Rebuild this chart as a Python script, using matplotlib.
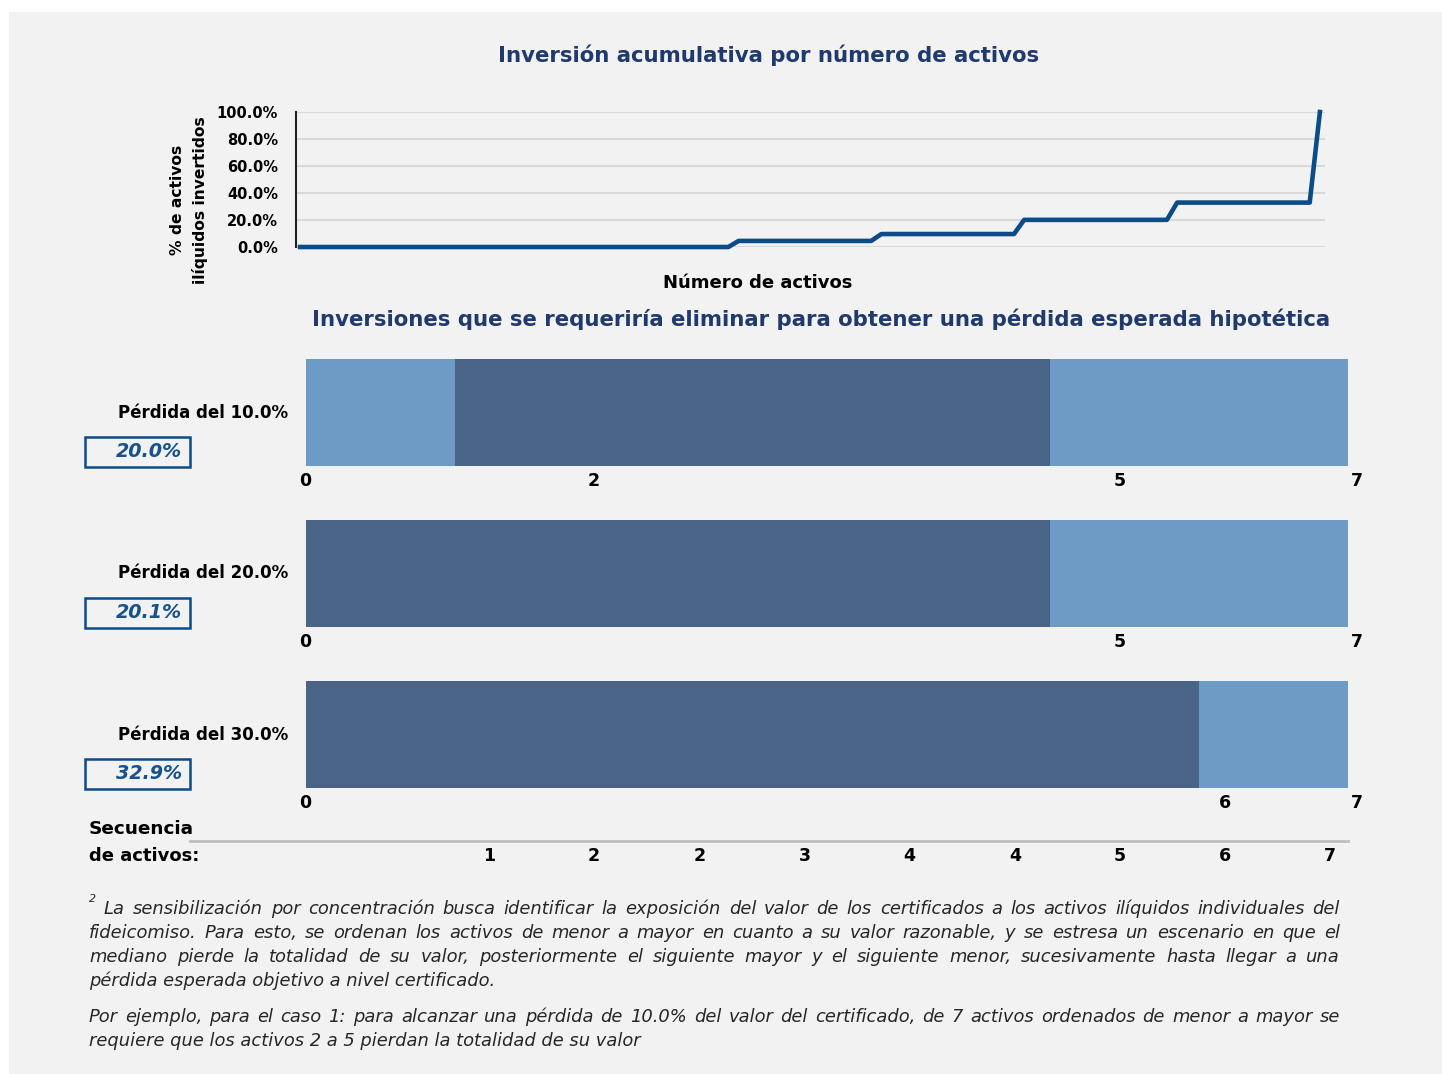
import numpy as np
import matplotlib
matplotlib.use("Agg")
import matplotlib.pyplot as plt
from matplotlib.patches import Rectangle

# ---- data ----
# cumulative share of illiquid assets invested, one value per point (101 points)
line_levels = [0.0, 4.5, 9.6, 20.1, 32.9, 100.0]
line_counts = [43, 14, 14, 15, 14, 1]
y_ticks = [0, 20, 40, 60, 80, 100]

scenarios = ["Pérdida del 10.0%", "Pérdida del 20.0%", "Pérdida del 30.0%"]
scenario_boxes = ["20.0%", "20.1%", "32.9%"]
n_assets = 7
removed_start = [1, 0, 0]
removed_end = [5, 5, 6]
bar_tick_labels = [["0", "2", "5", "7"], ["0", "5", "7"], ["0", "6", "7"]]

sequence = ["1", "2", "2", "3", "4", "4", "5", "6", "7"]

title_top = "Inversión acumulativa por número de activos"
title_bars = "Inversiones que se requeriría eliminar para obtener una pérdida esperada hipotética"

note_lines = [
    "La sensibilización por concentración busca identificar la exposición del valor de los certificados a los activos ilíquidos individuales del",
    "fideicomiso. Para esto, se ordenan los activos de menor a mayor en cuanto a su valor razonable, y se estresa un escenario en que el",
    "mediano pierde la totalidad de su valor, posteriormente el siguiente mayor y el siguiente menor, sucesivamente hasta llegar a una",
    "pérdida esperada objetivo a nivel certificado.",
]
example_lines = [
    "Por ejemplo, para el caso 1: para alcanzar una pérdida de 10.0% del valor del certificado, de 7 activos ordenados de menor a mayor se",
    "requiere que los activos 2 a 5 pierdan la totalidad de su valor",
]

# ---- style ----
W, H = 1442, 1074
BG = "#f2f2f2"
NAVY = "#203a6e"
LINE = "#0b4b87"
LIGHT = "#6d9bc6"
DARK = "#4a6487"

plt.rcParams["font.family"] = ["DejaVu Sans"]

fig = plt.figure(figsize=(W / 100, H / 100), dpi=100)
fig.patch.set_facecolor("white")
fig.patches.append(Rectangle((9 / W, 0), 1, 1 - 12 / H, transform=fig.transFigure,
                             facecolor=BG, edgecolor="none", zorder=-10))


def fx(px):
    return px / W


def fy(py):
    return 1 - py / H


def axes_px(left, top, right, bottom):
    return fig.add_axes([fx(left), fy(bottom), (right - left) / W, (bottom - top) / H])


# ---- top line chart ----
y_vals = np.repeat(line_levels, line_counts)
x_vals = np.arange(len(y_vals))

ax = axes_px(296, 112, 1325, 247)
ax.set_facecolor("none")
ax.plot(x_vals, y_vals, color=LINE, lw=3.3, clip_on=False, zorder=3)
ax.set_xlim(-0.4, len(y_vals) - 0.5)
ax.set_ylim(0, 100)
ax.set_yticks(y_ticks)
ax.set_yticklabels([f"{v:.1f}%" for v in y_ticks], fontsize=10.5, fontweight="bold")
ax.tick_params(axis="y", length=0, pad=13)
ax.set_xticks([])
ax.grid(axis="y", color="#d9d9d9", lw=1.5)
ax.set_axisbelow(True)
for s in ["top", "right", "bottom"]:
    ax.spines[s].set_visible(False)
ax.spines["left"].set_linewidth(1.5)
ax.spines["left"].set_color("#222222")

fig.text(fx(769), fy(55), title_top, ha="center", va="center", fontsize=15.3,
         fontweight="bold", color=NAVY)
fig.text(fx(177), fy(200), "% de activos", rotation=90, ha="center", va="center",
         fontsize=11.2, fontweight="bold")
fig.text(fx(200), fy(200), "ilíquidos invertidos", rotation=90, ha="center", va="center",
         fontsize=11.2, fontweight="bold")
fig.text(fx(758), fy(283), "Número de activos", ha="center", va="center",
         fontsize=13, fontweight="bold")

# ---- bar chart ----
fig.text(fx(821), fy(319), title_bars, ha="center", va="center", fontsize=15.3,
         fontweight="bold", color=NAVY)

bar_top, bar_bottom, bar_h_px, bar_gap = 359, 788, 107, 161
axb = axes_px(306, bar_top, 1348, bar_bottom)
axb.set_facecolor("none")
h = bar_h_px / bar_gap
rows = np.arange(len(scenarios))
starts = np.array(removed_start)
ends = np.array(removed_end)
axb.barh(rows, starts, left=0, height=h, color=LIGHT, edgecolor="none")
axb.barh(rows, ends - starts, left=starts, height=h, color=DARK, edgecolor="none")
axb.barh(rows, n_assets - ends, left=ends, height=h, color=LIGHT, edgecolor="none")
axb.set_xlim(0, n_assets)
axb.set_ylim(len(scenarios) - 1 + h / 2, -h / 2)
axb.axis("off")

# tick label x-positions (pixels) for each row
tick_px = {"0": 305, "2": 594, "5": 1120, "6": 1225, "7": 1357}
for i, name in enumerate(scenarios):
    cy = bar_top + bar_h_px / 2 + i * bar_gap
    fig.text(fx(288), fy(cy), name, ha="right", va="center", fontsize=12, fontweight="bold")
    bx0, bx1, by0, by1 = 85, 190, cy + 24, cy + 54
    fig.patches.append(Rectangle((fx(bx0), fy(by1)), (bx1 - bx0) / W, (by1 - by0) / H,
                                 transform=fig.transFigure, facecolor="none",
                                 edgecolor=LINE, lw=1.8))
    fig.text(fx(182), fy((by0 + by1) / 2), scenario_boxes[i], ha="right", va="center",
             fontsize=13.8, fontweight="bold", fontstyle="italic", color="#17528c")
    for lab in bar_tick_labels[i]:
        fig.text(fx(tick_px[lab]), fy(cy + bar_h_px / 2 + 15), lab, ha="center", va="center",
                 fontsize=12.5, fontweight="bold")

# sequence axis
fig.add_artist(plt.Line2D([fx(190), fx(1348)], [fy(841), fy(841)], color="#bfbfbf", lw=2,
                          transform=fig.transFigure))
fig.text(fx(89), fy(829), "Secuencia", ha="left", va="center", fontsize=13.3, fontweight="bold")
fig.text(fx(89), fy(856), "de activos:", ha="left", va="center", fontsize=13, fontweight="bold")
seq_x0, seq_step = 489, 105.15
for k, lab in enumerate(sequence):
    fig.text(fx(seq_x0 + k * seq_step), fy(856), lab, ha="center", va="center",
             fontsize=12.5, fontweight="bold")

# ---- footnote, justified ----
renderer = fig.canvas.get_renderer()
NOTE_KW = dict(fontsize=12.9, fontstyle="italic", color="#262626", va="baseline")


def justified(lines, x0_first, x0, x1, y0, step):
    for j, line in enumerate(lines):
        left = x0_first if j == 0 else x0
        y = fy(y0 + j * step)
        if j == len(lines) - 1:
            fig.text(fx(left), y, line, ha="left", **NOTE_KW)
            continue
        words = line.split(" ")
        arts = [fig.text(0, y, w, ha="left", **NOTE_KW) for w in words]
        widths = [a.get_window_extent(renderer).width for a in arts]
        gap = (x1 - left - sum(widths)) / (len(words) - 1)
        pos = left
        for a, wdt in zip(arts, widths):
            a.set_x(fx(pos))
            pos += wdt + gap


fig.text(fx(89), fy(902), "2", fontsize=8, fontstyle="italic", color="#262626", va="baseline")
justified(note_lines, 104, 89, 1340, 914, 24)
justified(example_lines, 89, 89, 1340, 1022, 24)

fig.savefig("out.png", dpi=100, facecolor=fig.get_facecolor())
